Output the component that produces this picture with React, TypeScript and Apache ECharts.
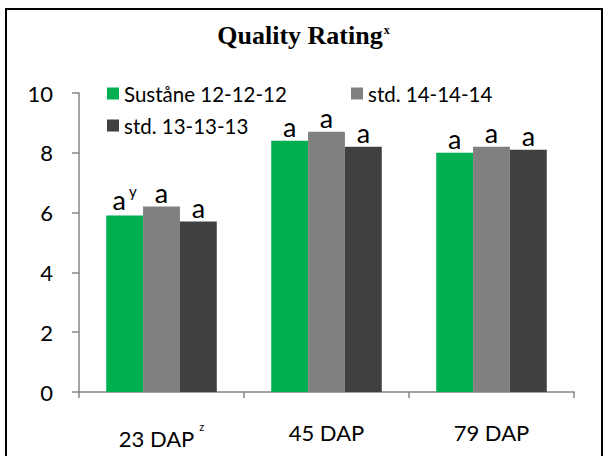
import React, { useEffect, useRef } from "react";
import * as echarts from "echarts";

const categories = ["23 DAP", "45 DAP", "79 DAP"];
const seriesNames = ["Suståne 12-12-12", "std. 14-14-14", "std. 13-13-13"];
const sustane = [5.9, 8.4, 8.0];
const std14 = [6.2, 8.7, 8.2];
const std13 = [5.7, 8.2, 8.1];
const colors = ["#00B050", "#808080", "#404040"];
const letters = [
  ["a", "a", "a"],
  ["a", "a", "a"],
  ["a", "a", "a"],
];

const FONT = "Lato, 'Open Sans', sans-serif";

export default function App() {
  const ref = useRef<HTMLDivElement>(null);
  useEffect(() => {
    if (!ref.current) return;
    const chart = echarts.init(ref.current, null, { renderer: "svg" });
    const values = [sustane, std14, std13];
    const series = values.map((vals, si) => ({
      name: seriesNames[si],
      type: "bar",
      data: vals,
      barGap: "0%",
      barCategoryGap: "33%",
      itemStyle: { color: colors[si] },
      label: {
        show: true,
        position: "top",
        distance: 1,
        formatter: (p: any) =>
          si === 0 && p.dataIndex === 0
            ? `{a|${letters[si][p.dataIndex]}}{s|y}`
            : `{a|${letters[si][p.dataIndex]}}`,
        rich: {
          a: { fontFamily: FONT, fontSize: 27, color: "#000" },
          s: { fontFamily: FONT, fontSize: 15, color: "#000", padding: [0, 0, 16, 3] },
        },
      },
    }));
    chart.setOption({
      animation: false,
      backgroundColor: "#fff",
      title: {
        text: "{t|Quality Rating}{s|x}",
        left: "center",
        top: 17,
        textStyle: {
          rich: {
            t: { fontFamily: "'Liberation Serif', serif", fontWeight: "bold", fontSize: 26, color: "#000" },
            s: { fontFamily: "'Liberation Serif', serif", fontSize: 12, color: "#000", padding: [0, 0, 10, 1] },
          },
        },
      },
      legend: [0, 1, 2].map((i) => ({
        data: [seriesNames[i]],
        left: i === 1 ? 351 : 107,
        top: i === 2 ? 115 : 83,
        padding: 0,
        itemWidth: 12,
        itemHeight: 12,
        itemGap: 4,
        icon: "rect",
        textStyle: { fontFamily: FONT, fontSize: 20.5, color: "#000" },
      })),
      grid: { left: 79, right: 33, top: 93, bottom: 64, containLabel: false },
      xAxis: {
        type: "category",
        data: categories,
        axisLine: { lineStyle: { color: "#868686", width: 1.5 } },
        axisTick: { show: true, length: 6, lineStyle: { color: "#868686", width: 1.5 } },
        axisLabel: {
          margin: 29,
          formatter: (v: string, i: number) => (i === 0 ? `{l|${v}}{s|z}` : `{l|${v}}`),
          rich: {
            l: { fontFamily: FONT, fontSize: 22, color: "#000" },
            s: { fontFamily: FONT, fontSize: 11, color: "#000", padding: [0, 0, 24, 5] },
          },
        },
      },
      yAxis: {
        type: "value",
        min: 0,
        max: 10,
        interval: 2,
        splitLine: { show: false },
        axisLine: { show: true, lineStyle: { color: "#868686", width: 1.5 } },
        axisTick: { show: true, length: 7, lineStyle: { color: "#868686", width: 1.5 } },
        axisLabel: { margin: 26, fontFamily: FONT, fontSize: 22, color: "#000" },
      },
      graphic: [
        {
          type: "rect",
          shape: { x: 6, y: 9, width: 596, height: 460 },
          style: { fill: "none", stroke: "#000", lineWidth: 2 },
          silent: true,
        },
      ],
      series,
    });
    return () => chart.dispose();
  }, []);
  return (
    <div
      ref={ref}
      style={{ position: "fixed", left: 0, top: 0, width: 607, height: 456 }}
    />
  );
}
